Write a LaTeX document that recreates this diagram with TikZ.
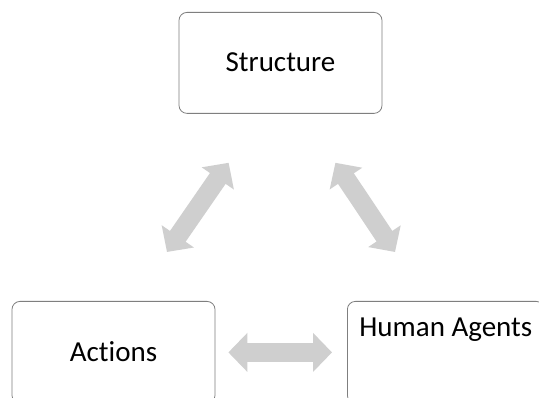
\documentclass[tikz,border=0pt]{standalone}
\usepackage{fontspec}
\setmainfont{Carlito}[Ligatures={CommonOff,RareOff,ContextualOff}]
\usepackage{tikz}
\usetikzlibrary{arrows.meta,positioning,calc}

\definecolor{boxline}{HTML}{7F7F7F}
\definecolor{arrowgray}{HTML}{CFCFCF}

\begin{document}
\begin{tikzpicture}[x=1pt,y=1pt,
  every node/.style={font=\fontsize{29}{34}\selectfont},
  block/.style={draw=boxline,line width=0.8pt,rounded corners=8pt,inner ysep=0pt},
  fatarrow/.style={draw=arrowgray,line width=19pt,
    {Triangle[length=19pt,width=38pt]}-{Triangle[length=19pt,width=38pt]}}]
\useasboundingbox (0,0) rectangle (539,398);
\clip (0,0) rectangle (539,398);
\fill[white] (0,0) rectangle (539,398);
% boxes
\node[block,anchor=north,minimum width=203pt,text height=59pt,text depth=42pt] (struct) at (280.5,386) {Structure};
\node[block,anchor=north,minimum width=203pt,text height=60pt,text depth=42pt] (act) at (113.5,97) {Actions};
\node[block,anchor=north west,inner xsep=12pt,text height=35pt,text depth=67pt] (agents) at (347,97) {Human Agents};
% two-way arrows
\draw[fatarrow] ($(act.north)+(53.5,49)$) -- ($(struct.south west)+(50,-49)$);
\draw[fatarrow] ($(struct.south east)+(-47,-49)$) -- ($(agents.north west)+(48,49)$);
\draw[fatarrow] ([xshift=13pt]act.east) -- ([xshift=-15pt]agents.west);
\end{tikzpicture}
\end{document}
